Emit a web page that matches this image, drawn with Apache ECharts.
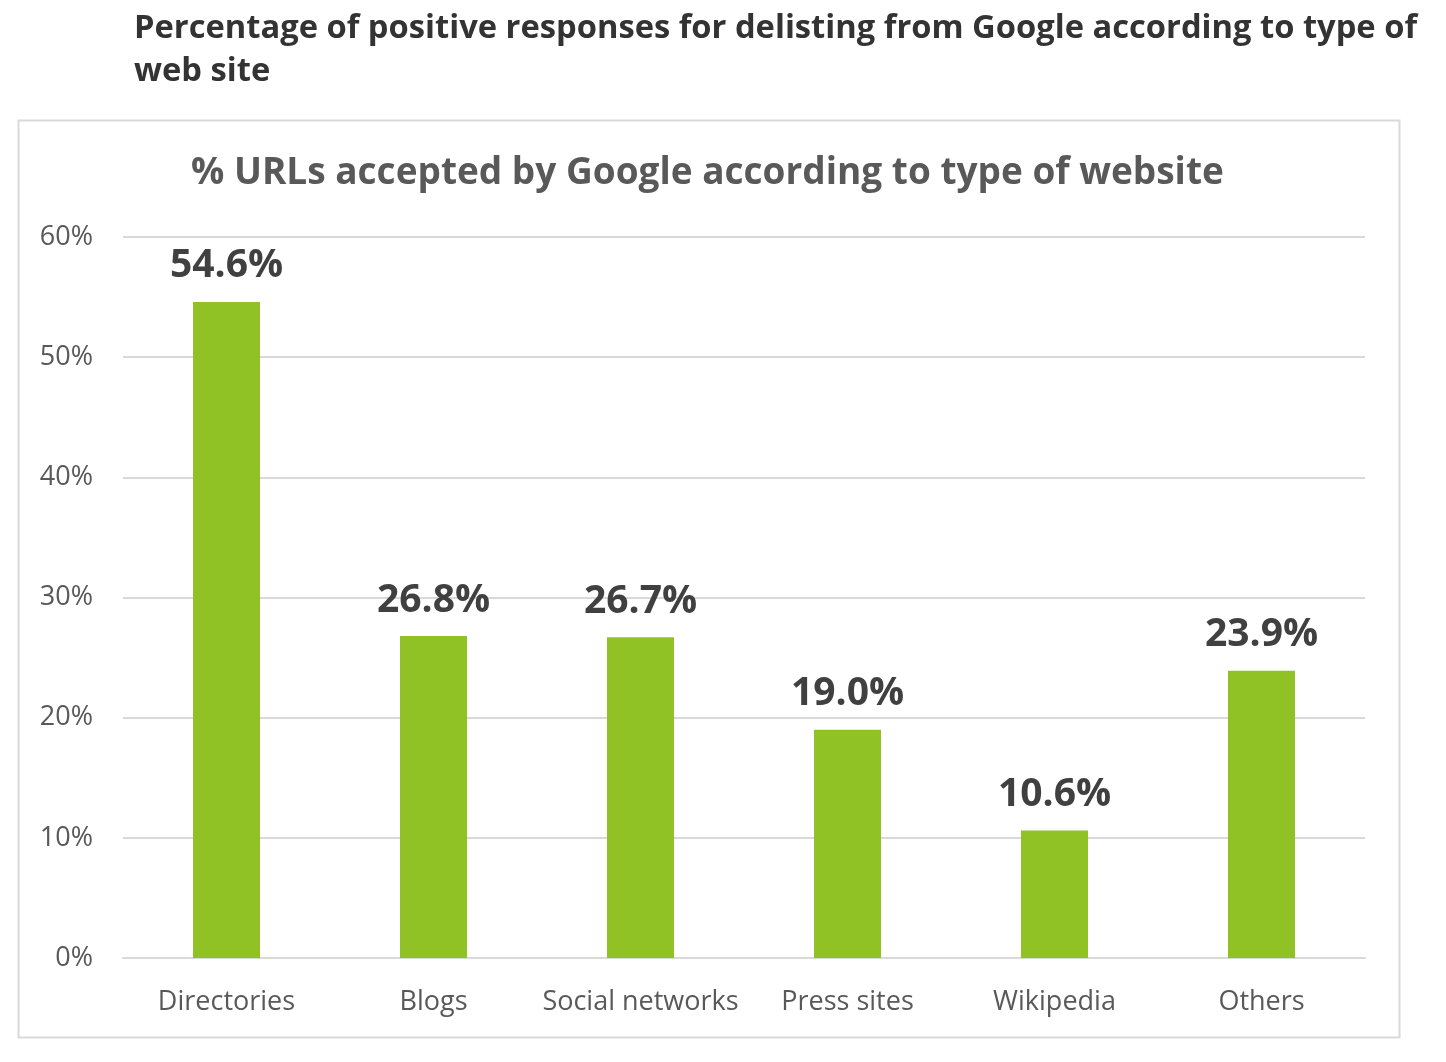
<!DOCTYPE html>
<html>
<head>
<meta charset="utf-8">
<script src="https://cdn.jsdelivr.net/npm/echarts@6/dist/echarts.min.js"></script>
<style>
  html, body { margin: 0; padding: 0; background: #fff; }
  #chart { width: 1446px; height: 1062px; }
</style>
</head>
<body>
<div id="chart"></div>
<script>
  var categories = ['Directories', 'Blogs', 'Social networks', 'Press sites', 'Wikipedia', 'Others'];
  var values = [54.6, 26.8, 26.7, 19.0, 10.6, 23.9];
  var yTicks = [0, 10, 20, 30, 40, 50, 60];

  var font = '"Open Sans", "Noto Sans", sans-serif';
  var chart = echarts.init(document.getElementById('chart'));
  chart.setOption({
    animation: false,
    textStyle: { fontFamily: font },
    graphic: [{
      type: 'rect',
      shape: { x: 18.5, y: 120.5, width: 1381, height: 917 },
      style: { fill: 'none', stroke: '#d9d9d9', lineWidth: 2 },
      z: -1
    }],
    title: [{
      text: 'Percentage of positive responses for delisting from Google according to type of\nweb site',
      left: 129, top: 2,
      textStyle: { fontFamily: font, fontSize: 32.7, fontWeight: 'bold', color: '#333', lineHeight: 43 }
    }, {
      text: '% URLs accepted by Google according to type of website',
      left: 186, top: 150,
      textStyle: { fontFamily: font, fontSize: 37, fontWeight: 'bold', color: '#595959' }
    }],
    grid: { left: 123, right: 81, top: 237, bottom: 104 },
    xAxis: {
      type: 'category',
      data: categories,
      axisLine: { lineStyle: { color: '#d9d9d9', width: 2 } },
      axisTick: { show: false },
      axisLabel: { interval: 0, fontSize: 27, color: '#595959', margin: 31 }
    },
    yAxis: {
      type: 'value',
      min: yTicks[0], max: yTicks[yTicks.length - 1], interval: 10,
      axisLine: { show: false },
      axisTick: { show: false },
      splitLine: { lineStyle: { color: '#d9d9d9', width: 2 } },
      axisLabel: { fontSize: 27, color: '#595959', margin: 30, formatter: '{value}%' }
    },
    series: [{
      type: 'bar',
      data: values,
      barWidth: 67,
      itemStyle: { color: '#90c226' },
      label: {
        show: true, position: 'top', distance: 16,
        fontSize: 39, fontWeight: 'bold', color: '#404040',
        formatter: function (p) { return p.value.toFixed(1) + '%'; }
      }
    }]
  });
</script>
</body>
</html>
